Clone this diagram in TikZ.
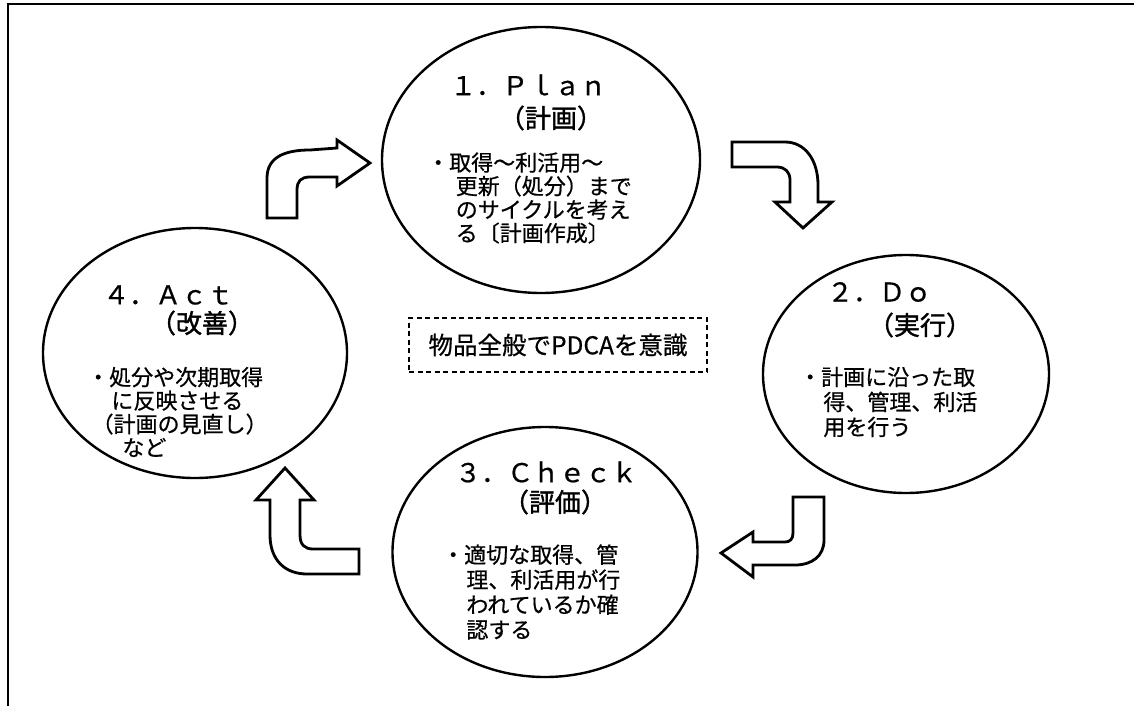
\documentclass[tikz,border=0pt]{standalone}
\usepackage{fontspec}
\newfontfamily\jp[FakeBold=0.6]{Noto Sans CJK JP}
\newfontfamily\jpb[FakeBold=1.4]{Noto Sans CJK JP}
\usetikzlibrary{shapes.geometric}
\begin{document}
\begin{tikzpicture}[x=1pt,y=-1pt,
  phase/.style={ellipse, draw, line width=2.4pt, inner sep=0pt},
  head/.style={font=\jp\fontsize{26}{28}\selectfont, inner sep=0pt, anchor=west},
  sub/.style={font=\jpb\fontsize{26}{28}\selectfont, inner sep=0pt},
  body/.style={font=\jp\fontsize{22}{23.5}\selectfont, inner sep=0pt, align=left, anchor=west},
  blockarrow/.style={draw, fill=white, line width=2.8pt, line join=miter}]
\useasboundingbox (0,0) rectangle (1134,706);
\fill[white] (0,0) rectangle (1134,706);
\draw[line width=2.8pt] (8,706) -- (8,4) -- (1134,4);

% phases
\node[phase, minimum width=318pt, minimum height=266pt] (plan) at (541,160) {};
\node[phase, minimum width=286pt, minimum height=238pt] (do) at (906,374) {};
\node[phase, minimum width=305pt, minimum height=250pt] (check) at (545,552) {};
\node[phase, minimum width=304pt, minimum height=250pt] (act) at (195,353) {};

% plan texts
\node[head] (planh) at (450,85) {１．Ｐｌａｎ};
\node[sub] (plans) at (551,118) {（計画）};
\node[body] (planb) at (427,198) {・取得～利活用～\\\hspace*{1.3em}更新（処分）まで\\\hspace*{1.3em}のサイクルを考え\\\hspace*{1.3em}る〔計画作成〕};

% do texts
\node[head] (doh) at (827,292) {２．Ｄｏ};
\node[sub] (dos) at (920,325) {（実行）};
\node[body, font=\jp\fontsize{22}{25}\selectfont] (dob) at (799,402) {・計画に沿った取\\\hspace*{1.1em}得、管理、利活\\\hspace*{1.1em}用を行う};

% check texts
\node[head] (checkh) at (455,472) {３．Ｃｈｅｃｋ};
\node[sub] (checks) at (555,502) {（評価）};
\node[body, font=\jp\fontsize{22}{25}\selectfont] (checkb) at (442,592) {・適切な取得、管\\\hspace*{1.1em}理、利活用が行\\\hspace*{1.1em}われているか確\\\hspace*{1.1em}認する};

% act texts
\node[head] (acth) at (103,295) {４．Ａｃｔ};
\node[sub] (acts) at (202,323) {（改善）};
\node[body] (actb) at (87,412) {・処分や次期取得\\\hspace*{1.1em}に反映させる\\\hspace*{0.2em}（計画の見直し）\\\hspace*{1.6em}など};

% center box
\node[draw, dash pattern=on 5pt off 3.5pt, line width=2.8pt, minimum width=298pt, minimum height=54pt, inner sep=0pt, font=\jp\fontsize{24.5}{26}\selectfont] (pdca) at (558,345) {物品全般でPDCAを意識};

% block arrows
\draw[blockarrow] (267,218) -- (267,178) .. controls (267,157) and (285,150) .. (310,150) -- (337,148) -- (337,140) -- (370,163) -- (337,186) -- (337,177) -- (310,177) .. controls (301,177) and (297,181) .. (297,190) -- (297,218) -- cycle;
\draw[blockarrow] (732,142) -- (785,142) .. controls (805,142) and (818,160) .. (818,185) -- (818,202) -- (832,202) -- (803,228) -- (775,202) -- (790,202) -- (790,180) .. controls (790,172) and (785,167) .. (777,167) -- (732,167) -- cycle;
\draw[blockarrow] (793,497) -- (824,497) -- (824,540) .. controls (824,556) and (812,565) .. (795,565) -- (753,565) -- (753,577) -- (721,553) -- (753,532) -- (753,542) -- (785,542) .. controls (790,542) and (793,539) .. (793,533) -- cycle;
\draw[blockarrow] (359,549) -- (359,574) -- (307,574) .. controls (285,574) and (270,560) .. (270,535) -- (270,500) -- (256,500) -- (285,468) -- (314,500) -- (300,500) -- (300,535) .. controls (300,545) and (305,549) .. (313,549) -- cycle;
\end{tikzpicture}
\end{document}
